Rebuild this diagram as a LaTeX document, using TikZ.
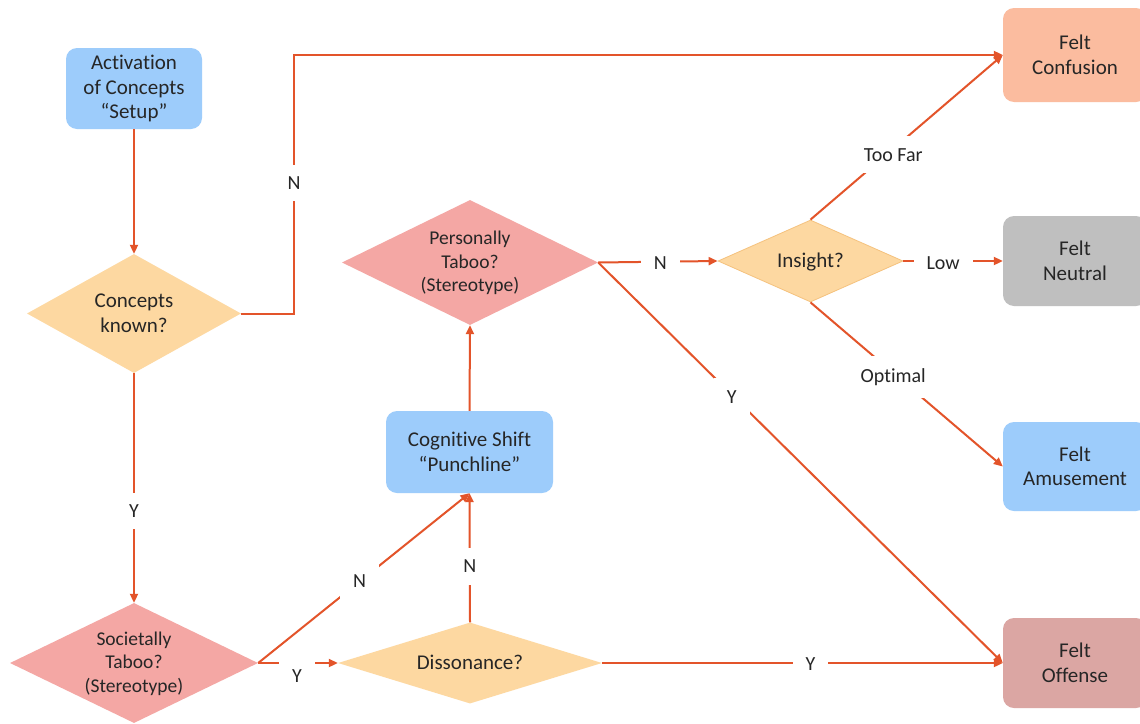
\documentclass[tikz,border=0pt]{standalone}
\usepackage{fontspec}
\setmainfont[Ligatures=NoCommon]{Carlito}
\usetikzlibrary{shapes.geometric,arrows.meta}
\definecolor{ln}{HTML}{E3542A}
\definecolor{txt}{HTML}{262626}
\definecolor{cblue}{HTML}{9DCCFB}
\definecolor{corange}{HTML}{FDD8A1}
\definecolor{cpink}{HTML}{F4A7A4}
\definecolor{cconf}{HTML}{FBBC9F}
\definecolor{cneu}{HTML}{BFBFBF}
\definecolor{coff}{HTML}{DBA6A3}
\definecolor{cinsb}{HTML}{F5C27E}
\newcommand\fBig{\fontsize{21}{24.5}\selectfont}
\newcommand\fSmall{\fontsize{19.5}{23.5}\selectfont}
\newcommand\fLbl{\fontsize{20}{24}\selectfont}
\newcommand\dtext[3]{\raisebox{#1}{\smash{\makebox[0pt]{#2\begin{tabular}{@{}c@{}}#3\end{tabular}}}}}
\begin{document}
\begin{tikzpicture}[x=1pt,y=-1pt,
  box/.style={rectangle, rounded corners=11pt, inner sep=0pt, align=center, text=txt, font=\fBig},
  dia/.style={diamond, inner sep=0pt, text=txt},
  conn/.style={draw=ln, line width=2pt, -{Triangle[length=9pt,width=8pt]}},
  lbl/.style={fill=white, inner xsep=13pt, inner ysep=12pt, text=txt, font=\fLbl}]
\useasboundingbox (0,0) rectangle (1140,723);
\clip (0,0) rectangle (1140,723);
\fill[white] (0,0) rectangle (1140,723);

% nodes
\node[box, fill=cblue, minimum width=136pt, minimum height=81pt] (act) at (134,88.5) {Activation\\of Concepts\\“Setup”};
\node[dia, fill=corange, minimum width=214pt, minimum height=119pt] (ck) at (134,313.5) {\dtext{-14pt}{\fBig}{Concepts\\known?}};
\node[dia, fill=cpink, minimum width=248pt, minimum height=120pt] (soc) at (134,663) {\dtext{-12pt}{\fSmall}{Societally\\Taboo?\\(Stereotype)}};
\node[dia, fill=corange, minimum width=264pt, minimum height=81pt] (dis) at (470,663) {\dtext{-14pt}{\fBig}{Dissonance?}};
\node[box, fill=cblue, minimum width=167pt, minimum height=82pt] (cog) at (469.5,452) {Cognitive Shift\\“Punchline”};
\node[dia, fill=cpink, minimum width=256pt, minimum height=125pt] (per) at (470,262.5) {\dtext{-12pt}{\fSmall}{Personally\\Taboo?\\(Stereotype)}};
\node[dia, fill=corange, draw=cinsb, line width=0.8pt, minimum width=185pt, minimum height=82pt] (ins) at (810.5,261) {\dtext{-14pt}{\fBig}{Insight?}};
\node[box, fill=cconf, minimum width=144pt, minimum height=94pt] (conf) at (1075,55) {Felt\\Confusion};
\node[box, fill=cneu, minimum width=144pt, minimum height=90pt] (neu) at (1075,261) {Felt\\Neutral};
\node[box, fill=cblue, minimum width=144pt, minimum height=89pt] (amu) at (1075,466.5) {Felt\\Amusement};
\node[box, fill=coff, minimum width=144pt, minimum height=90pt] (off) at (1075,663) {Felt\\Offense};

% connectors
\draw[conn] (act.south) -- (ck.north);
\coordinate (ncorner) at (294,55);
\draw[conn] (ck.east) -| (ncorner) -- (conf.west);
\node[lbl] (lN1) at (294,183) {N};
\draw[conn] (ck.south) -- node[lbl,pos=0.6] (lY1) {Y} (soc.north);
\draw[conn] (soc.east) -- (dis.west);
\node[lbl] (lY2) at (297,676) {Y};
\draw[conn] (soc.east) -- node[lbl,pos=0.48] (lN3) {N} (cog.south);
\draw[conn] (dis.north) -- node[lbl,pos=0.435] (lN4) {N} (cog.south);
\draw[conn] (dis.east) -- node[lbl,pos=0.52,yshift=-1pt] (lY3) {Y} (off.west);
\draw[conn] (cog.north) -- (per.south);
\draw[conn] (per.east) -- node[lbl,pos=0.52,yshift=-1.5pt] (lN5) {N} (ins.west);
\draw[conn] (per.east) -- node[lbl,pos=0.33,yshift=-2pt] (lY4) {Y} (off.west);
\draw[conn] (ins.north) -- node[lbl,pos=0.43,yshift=-6pt] (lTF) {Too Far} (conf.west);
\draw[conn] (ins.east) -- node[lbl,pos=0.4,yshift=-2pt] (lLow) {Low} (neu.west);
\draw[conn] (ins.south) -- node[lbl,pos=0.43,yshift=-4pt] (lOpt) {Optimal} (amu.west);
\end{tikzpicture}
\end{document}
